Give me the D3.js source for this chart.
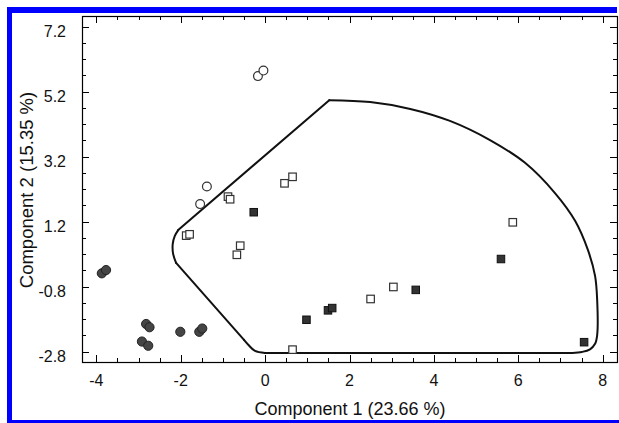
<!DOCTYPE html>
<html><head><meta charset="utf-8">
<script src="https://cdn.jsdelivr.net/npm/d3@7"></script>
<style>body{margin:0;background:#fff}svg{display:block}</style>
</head><body>
<svg id="c" width="619" height="423"></svg>
<script>
// ---- data ----
const filledCircles = [[-3.87,-0.39],[-3.77,-0.29],[-2.82,-1.95],[-2.74,-2.05],[-2.92,-2.49],[-2.77,-2.62],[-2.01,-2.19],[-1.56,-2.19],[-1.49,-2.09]];
const openCircles = [[-1.38,2.28],[-1.54,1.74],[-0.17,5.68],[-0.04,5.85]];
const openSquares = [[-0.88,1.97],[-0.83,1.89],[-1.87,0.77],[-1.79,0.81],[-0.59,0.46],[-0.67,0.18],[0.46,2.38],[0.65,2.58],[5.87,1.18],[3.04,-0.81],[2.50,-1.18],[0.65,-2.74]];
const filledSquares = [[-0.27,1.49],[5.59,0.05],[3.57,-0.90],[1.49,-1.53],[1.59,-1.46],[0.98,-1.82],[7.56,-2.51]];
// hull outline pieces: curved arcs and straight edges
const hullArcRight = [[1.52,4.94],[2.49,4.88],[3.44,4.67],[4.38,4.30],[5.33,3.71],[6.16,3.01],[6.87,2.08],[7.35,1.22],[7.65,0.33],[7.82,-0.47],[7.87,-1.21],[7.87,-2.29],[7.82,-2.56],[7.70,-2.73],[7.51,-2.81],[7.27,-2.84],[7.00,-2.84]];
const hullBottom = [[7.00,-2.84],[0.00,-2.84]];
const hullCornerLow = [[0.20,-2.84],[0.00,-2.84],[-0.24,-2.78],[-0.40,-2.59],[-0.50,-2.44]];
const hullLowerEdge = [[-0.50,-2.44],[-2.11,-0.07]];
const hullCornerLeft = [[-2.11,-0.07],[-2.18,0.21],[-2.19,0.51],[-2.14,0.76],[-2.06,0.94]];
const hullUpperEdge = [[-2.06,0.94],[1.52,4.94]];
const xTicks = [-4,-2,0,2,4,6,8];
const yTicks = [-2.8,-0.8,1.2,3.2,5.2,7.2];
const xTitle = "Component 1 (23.66 %)";
const yTitle = "Component 2 (15.35 %)";

const svg = d3.select("#c");
const L=82,R=617,T=16,B=362;
const x = d3.scaleLinear().domain([-4.34, 8.34]).range([L, R]);
const y = d3.scaleLinear().domain([-3.12, 7.53]).range([B, T]);
const font = "'Liberation Sans', Arial, sans-serif";

// blue frame
svg.append("rect").attr("x",7).attr("y",7).attr("width",610).attr("height",6).attr("fill","#0000ff");
svg.append("rect").attr("x",7).attr("y",7).attr("width",5).attr("height",416).attr("fill","#0000ff");
svg.append("rect").attr("x",7).attr("y",420).attr("width",612).attr("height",3).attr("fill","#0000ff");

// ticks
const xMinor = d3.range(-4, 8.01, 0.5);
const yMinor = d3.range(-2.8, 7.21, 0.5).map(v=>+v.toFixed(2));
const g = svg.append("g").attr("stroke","#000").attr("stroke-width",1).attr("shape-rendering","crispEdges");
const isMajX = v => xTicks.some(t=>Math.abs(t-v)<1e-6);
const isMajY = v => yTicks.some(t=>Math.abs(t-v)<1e-6);
xMinor.forEach(v=>{
  const len = isMajX(v)?7:4, px=Math.round(x(v))+0.5;
  g.append("line").attr("x1",px).attr("x2",px).attr("y1",B).attr("y2",B-len);
  g.append("line").attr("x1",px).attr("x2",px).attr("y1",T).attr("y2",T+len);
});
yMinor.forEach(v=>{
  const len = isMajY(v)?7:4, py=Math.round(y(v))+0.5;
  g.append("line").attr("y1",py).attr("y2",py).attr("x1",L).attr("x2",L+len);
  g.append("line").attr("y1",py).attr("y2",py).attr("x1",R).attr("x2",R-len);
});
svg.append("rect").attr("x",L+0.5).attr("y",T+0.5).attr("width",R-L).attr("height",B-T)
  .attr("fill","none").attr("stroke","#000").attr("stroke-width",1.2);

// tick labels
svg.append("g").selectAll("text").data(xTicks).join("text")
  .attr("x",d=>x(d)).attr("y",386).attr("text-anchor","middle")
  .attr("font-family",font).attr("font-size",16).attr("fill","#111").text(d=>d);
svg.append("g").selectAll("text").data(yTicks).join("text")
  .attr("x",66).attr("y",d=>y(d)+10).attr("text-anchor","end")
  .attr("font-family",font).attr("font-size",16).attr("fill","#111").text(d=>d);

// titles
svg.append("text").attr("x",350).attr("y",415).attr("text-anchor","middle")
  .attr("font-family",font).attr("font-size",18).attr("fill","#111").text(xTitle);
svg.append("text").attr("transform","translate(33,190) rotate(-90)").attr("text-anchor","middle")
  .attr("font-family",font).attr("font-size",18.5).attr("fill","#111").text(yTitle);

// hull
const lineCurve = d3.line().x(d=>x(d[0])).y(d=>y(d[1])).curve(d3.curveCatmullRom.alpha(0.5));
const lineStraight = d3.line().x(d=>x(d[0])).y(d=>y(d[1]));
const hg = svg.append("g").attr("fill","none").attr("stroke","#111").attr("stroke-width",2)
  .attr("stroke-linecap","round").attr("stroke-linejoin","round");
[hullArcRight, hullCornerLeft].forEach(p=>hg.append("path").attr("d", lineCurve(p)));
hg.append("path").attr("d", lineCurve(hullCornerLow.slice(1)));
[hullBottom, hullLowerEdge, hullUpperEdge].forEach(p=>hg.append("path").attr("d", lineStraight(p)));

// points
svg.append("g").selectAll("circle").data(filledCircles).join("circle")
  .attr("cx",d=>x(d[0])).attr("cy",d=>y(d[1])).attr("r",4.6)
  .attr("fill","#454545").attr("stroke","#222").attr("stroke-width",1);
svg.append("g").selectAll("circle").data(openCircles).join("circle")
  .attr("cx",d=>x(d[0])).attr("cy",d=>y(d[1])).attr("r",4.4)
  .attr("fill","#fff").attr("stroke","#333").attr("stroke-width",1.2);
const s=7.5;
svg.append("g").selectAll("rect").data(openSquares).join("rect")
  .attr("x",d=>x(d[0])-s/2).attr("y",d=>y(d[1])-s/2).attr("width",s).attr("height",s)
  .attr("fill","#fff").attr("stroke","#333").attr("stroke-width",1.2);
svg.append("g").selectAll("rect").data(filledSquares).join("rect")
  .attr("x",d=>x(d[0])-s/2).attr("y",d=>y(d[1])-s/2).attr("width",s).attr("height",s)
  .attr("fill","#333").attr("stroke","#111").attr("stroke-width",1);
</script>
</body></html>
